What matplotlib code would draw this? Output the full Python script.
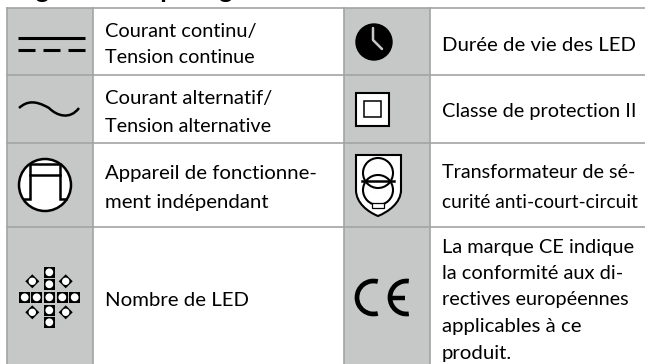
import matplotlib
matplotlib.use('Agg')
import matplotlib.pyplot as plt
from matplotlib.patches import Arc, Circle, PathPatch, Polygon, Rectangle
from matplotlib.path import Path

# table texts
title = 'Légende des pictogrammes utilisés'
left_labels = [
    ['Courant continu/', 'Tension continue'],
    ['Courant alternatif/', 'Tension alternative'],
    ['Appareil de fonctionne-', 'ment indépendant'],
    ['Nombre de LED'],
]
right_labels = [
    ['Durée de vie des LED'],
    ['Classe de protection II'],
    ['Transformateur de sé-', 'curité anti-court-circuit'],
    ['La marque CE indique', 'la conformité aux di-', 'rectives européennes',
     'applicables à ce', 'produit.'],
]

GREY = '#c6c8c7'
LINE = '#a3a3a3'
FONT = 'Lato'
SIZE = 14

# where each line of text ends and sits
left_ends = [[257, 255], [273, 272], [320, 269], [250]]
left_base = [[37, 63], [104, 131.7], [178.5, 208.3], [306]]
right_ends = [[636], [637], [636, 637], [635, 624, 630, 592, 516]]
right_base = [[50.7], [116.7], [178.5, 208.3], [252.7, 278.7, 305.3, 332, 358.7]]

fig = plt.figure(figsize=(6.45, 3.64), dpi=100)
ax = fig.add_axes([0, 0, 1, 1])
ax.set_xlim(0, 645)
ax.set_ylim(364, 0)
ax.axis('off')
renderer = fig.canvas.get_renderer()


def fitted_text(x0, x1, y, s):
    # Futura is not installed, so nudge the Lato size towards the line's real width
    t = ax.text(x0, y, s, family=FONT, fontsize=SIZE, va='baseline')
    w = t.get_window_extent(renderer).width
    t.set_fontsize(min(14.7, max(13.8, SIZE * (x1 - x0) / w)))


# grey icon columns
ax.add_patch(Rectangle((7, 8), 86, 356, fc=GREY, ec='none', zorder=0))
ax.add_patch(Rectangle((344, 8), 86, 356, fc=GREY, ec='none', zorder=0))

# grid
for y in [8, 75, 143, 227]:
    ax.plot([7, 645], [y, y], color=LINE, lw=1.2, zorder=1)
for x in [7, 93, 344, 430]:
    ax.plot([x, x], [8, 364], color=LINE, lw=1.2, zorder=1)

# title, cut off by the top edge of the picture
ax.text(8, -2.5, title, family=FONT, fontsize=18.8, fontweight='bold', va='baseline',
        color='black', clip_on=True)

# row texts
for lines, ends, bases in zip(left_labels, left_ends, left_base):
    for line, x1, y in zip(lines, ends, bases):
        fitted_text(105, x1, y, line)
for lines, ends, bases in zip(right_labels, right_ends, right_base):
    for line, x1, y in zip(lines, ends, bases):
        fitted_text(442, x1, y, line)

# direct current
ax.plot([18, 85], [38, 38], color='k', lw=2.2, solid_capstyle='butt')
for x0, x1 in [(18, 35), (43, 60), (68, 85)]:
    ax.plot([x0, x1], [50, 50], color='k', lw=2.2, solid_capstyle='butt')

# alternating current
wave = Path([(19, 108), (27, 101), (35, 100), (49, 108), (57, 116), (70, 120), (79, 108)],
            [Path.MOVETO] + [Path.CURVE4] * 6)
ax.add_patch(PathPatch(wave, fc='none', ec='k', lw=1.8))

# independent control gear
ax.add_patch(Circle((45, 185), 26, fc='white', ec='k', lw=1.8))
ax.plot([24, 30, 30, 60, 60, 66], [199, 199, 164, 164, 199, 199], color='k', lw=1.8,
        solid_joinstyle='miter')
ax.plot([30, 60], [175, 175], color='k', lw=1.8)

# LED count
led_x = [24.7, 36.7, 49.3, 62.3, 74.7]
led_y = [272.3, 284.3, 297.3, 310.3, 322.3]
leds = [(x, 297.3) for x in led_x] + [(49.3, y) for y in led_y if y != 297.3]
for x, y in leds:
    ax.add_patch(Rectangle((x - 5.6, y - 5.6), 11.2, 11.2, fc='k', ec='none'))
    ax.add_patch(Circle((x, y), 3.9, fc='white', ec='none'))
for x, y in [(32.3, 281.3), (65.7, 281.3), (32.3, 312.3), (65.7, 312.3)]:
    ax.add_patch(Polygon([(x - 7, y), (x, y - 7), (x + 7, y), (x, y + 7)], fc='k', ec='none'))
    ax.add_patch(Circle((x, y), 3.7, fc='white', ec='none'))

# lifetime clock
ax.add_patch(Circle((374, 42), 18.7, fc='k', ec='none'))
ax.plot([373, 373, 382], [28, 40, 49], color=GREY, lw=1.8, solid_capstyle='round')

# protection class II
ax.add_patch(Rectangle((355.5, 93), 33.5, 32.5, fc='white', ec='k', lw=1.5))
ax.add_patch(Rectangle((363.7, 101), 17.3, 16.3, fc='white', ec='k', lw=1.1))

# safety transformer
shield = Path([(356, 155), (401, 155), (401, 190), (401, 203), (388, 212), (378, 216),
               (368, 212), (356, 203), (356, 190), (356, 155)],
              [Path.MOVETO, Path.LINETO, Path.LINETO, Path.CURVE4, Path.CURVE4, Path.CURVE4,
               Path.CURVE4, Path.CURVE4, Path.CURVE4, Path.CLOSEPOLY])
ax.add_patch(PathPatch(shield, fc='white', ec='k', lw=1.5))
ax.add_patch(Circle((378, 173), 15, fc='none', ec='k', lw=1.5))
ax.add_patch(Circle((378, 190), 15, fc='none', ec='k', lw=1.5))
ax.plot([362, 394], [181, 181], color='k', lw=1.8)
ax.add_patch(Rectangle((372, 203), 12, 4.5, fc='white', ec='k', lw=0.9))

# CE mark
ax.add_patch(Arc((373.5, 297.5), 33, 33, theta1=75, theta2=285, ec='k', lw=3.4))
ax.add_patch(Arc((406.5, 297.5), 33, 33, theta1=82, theta2=278, ec='k', lw=3.4))
ax.plot([390, 405], [297.5, 297.5], color='k', lw=3.2, solid_capstyle='butt')

fig.savefig('out.png', dpi=100)
